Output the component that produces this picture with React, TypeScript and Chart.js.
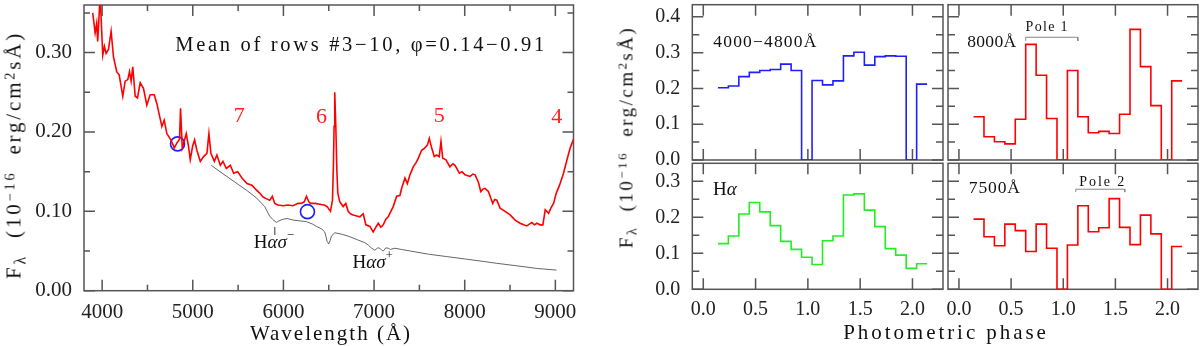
import React, { useEffect, useLayoutEffect, useRef } from 'react';
import { Chart, registerables } from 'chart.js';
Chart.register(...registerables);

// ---------- Left panel: mean spectrum ----------
const specWave = [3896, 3923, 3940, 3951, 3967, 3978, 3996, 4007, 4025, 4044, 4070, 4099, 4125, 4161, 4188, 4228, 4254, 4283, 4302, 4320, 4338, 4365, 4390, 4420, 4456, 4493, 4530, 4575, 4603, 4659, 4685, 4714, 4758, 4796, 4824, 4854, 4865, 4884, 4909, 4928, 4953, 4972, 4998, 5020, 5045, 5083, 5119, 5156, 5178, 5200, 5238, 5266, 5304, 5333, 5370, 5414, 5451, 5495, 5543, 5598, 5653, 5700, 5738, 5775, 5810, 5849, 5878, 5904, 5940, 5996, 6050, 6106, 6161, 6199, 6230, 6254, 6280, 6298, 6350, 6401, 6450, 6482, 6519, 6541, 6552, 6559, 6566, 6578, 6590, 6600, 6622, 6659, 6688, 6714, 6740, 6769, 6810, 6843, 6880, 6910, 6954, 6990, 7020, 7046, 7075, 7101, 7130, 7156, 7185, 7211, 7249, 7285, 7304, 7341, 7367, 7396, 7432, 7462, 7488, 7525, 7561, 7590, 7609, 7635, 7664, 7690, 7719, 7738, 7757, 7793, 7837, 7870, 7893, 7941, 7970, 8003, 8058, 8090, 8114, 8150, 8177, 8200, 8224, 8261, 8309, 8330, 8354, 8390, 8445, 8501, 8556, 8611, 8650, 8685, 8740, 8770, 8796, 8832, 8862, 8888, 8925, 8950, 8980, 9010, 9046, 9090, 9128, 9164, 9201];
const specFlux = [0.350, 0.325, 0.337, 0.314, 0.348, 0.372, 0.325, 0.297, 0.308, 0.299, 0.304, 0.327, 0.295, 0.276, 0.272, 0.245, 0.264, 0.266, 0.276, 0.264, 0.282, 0.245, 0.243, 0.262, 0.255, 0.234, 0.247, 0.247, 0.236, 0.207, 0.215, 0.198, 0.190, 0.180, 0.186, 0.191, 0.230, 0.180, 0.190, 0.198, 0.182, 0.165, 0.182, 0.190, 0.177, 0.163, 0.169, 0.173, 0.198, 0.173, 0.163, 0.171, 0.158, 0.163, 0.154, 0.158, 0.148, 0.150, 0.142, 0.135, 0.133, 0.127, 0.123, 0.118, 0.116, 0.114, 0.119, 0.110, 0.108, 0.107, 0.108, 0.107, 0.110, 0.110, 0.112, 0.119, 0.112, 0.110, 0.110, 0.109, 0.108, 0.106, 0.100, 0.114, 0.160, 0.207, 0.250, 0.207, 0.150, 0.123, 0.112, 0.106, 0.110, 0.100, 0.097, 0.0955, 0.094, 0.093, 0.097, 0.083, 0.081, 0.074, 0.080, 0.085, 0.080, 0.083, 0.090, 0.093, 0.100, 0.106, 0.119, 0.120, 0.129, 0.142, 0.135, 0.146, 0.156, 0.161, 0.167, 0.177, 0.180, 0.184, 0.192, 0.180, 0.169, 0.171, 0.169, 0.188, 0.167, 0.165, 0.156, 0.160, 0.158, 0.148, 0.150, 0.146, 0.144, 0.147, 0.146, 0.137, 0.125, 0.128, 0.129, 0.125, 0.110, 0.115, 0.114, 0.104, 0.100, 0.0955, 0.089, 0.085, 0.083, 0.0816, 0.086, 0.083, 0.085, 0.083, 0.083, 0.102, 0.0976, 0.104, 0.110, 0.123, 0.133, 0.148, 0.165, 0.180, 0.191];

const starWave = [5204, 5300, 5400, 5500, 5600, 5702, 5760, 5793, 5848, 5880, 5922, 5950, 5996, 6040, 6106, 6180, 6254, 6320, 6364, 6420, 6456, 6470, 6482, 6500, 6515, 6530, 6567, 6650, 6733, 6820, 6899, 6940, 6973, 7009, 7040, 7064, 7085, 7101, 7130, 7156, 7180, 7230, 7300, 7400, 7600, 7801, 8000, 8200, 8354, 8600, 8800, 9012];
const starFlux = [0.158, 0.150, 0.142, 0.134, 0.126, 0.117, 0.110, 0.106, 0.094, 0.090, 0.086, 0.088, 0.090, 0.091, 0.089, 0.088, 0.087, 0.084, 0.081, 0.078, 0.074, 0.068, 0.062, 0.059, 0.063, 0.069, 0.073, 0.071, 0.068, 0.064, 0.0605, 0.057, 0.0535, 0.051, 0.054, 0.0535, 0.051, 0.050, 0.054, 0.0535, 0.052, 0.0535, 0.052, 0.050, 0.046, 0.043, 0.040, 0.037, 0.0345, 0.031, 0.028, 0.026];

const markWave = [4832, 6265];
const markFlux = [0.185, 0.0996];

const waveTicks = [4000, 5000, 6000, 7000, 8000, 9000];
const waveMinor = [4500, 5500, 6500, 7500, 8500];
const fluxTicks = [0, 0.1, 0.2, 0.3];
const fluxMinor = [0.05, 0.15, 0.25, 0.35];

// ---------- Right panels: light curves ----------
const phaseEdges = [0.14, 0.24, 0.34, 0.44, 0.54, 0.64, 0.74, 0.84, 0.94, 1.04, 1.14, 1.24, 1.34, 1.44, 1.54, 1.64, 1.74, 1.84, 1.94, 2.04, 2.14];
const blue4000 = [0.202, 0.207, 0.233, 0.245, 0.250, 0.253, 0.268, 0.250, 0, 0.222, 0.210, 0.221, 0.291, 0.301, 0.265, 0.289, 0.291, 0.290, 0, 0.212];
const red8000 = [0.121, 0.065, 0.051, 0.045, 0.114, 0.323, 0.237, 0.116, 0, 0.250, 0.121, 0.076, 0.080, 0.074, 0.128, 0.365, 0.261, 0.152, 0, 0.221];
const greenHa = [0.127, 0.148, 0.209, 0.241, 0.215, 0.177, 0.133, 0.111, 0.089, 0.069, 0.135, 0.148, 0.262, 0.265, 0.220, 0.174, 0.113, 0.095, 0.058, 0.071];
const red7500 = [0.195, 0.146, 0.121, 0.181, 0.163, 0.105, 0.181, 0.114, 0, 0.123, 0.232, 0.160, 0.171, 0.252, 0.172, 0.124, 0.206, 0.154, 0, 0.119];

const phaseTicks = [0, 0.5, 1, 1.5, 2];
const topFluxTicks = [0, 0.1, 0.2, 0.3, 0.4];
const topFluxMinor = [0.05, 0.15, 0.25, 0.35];
const botFluxTicks = [0, 0.1, 0.2, 0.3];
const botFluxMinor = [0.05, 0.15, 0.25];

const pole1Phase = [0.64, 1.14];
const pole1Level = [0.333, 0.343];
const pole2Phase = [1.12, 1.59];
const pole2Level = [0.270, 0.278];

// ---------- helpers ----------
const FRAME = '#555';
const SERIF = '"Liberation Serif", "DejaVu Serif", serif';
Chart.defaults.font.family = SERIF;

type Part = { t: string; size?: number; dy?: number; italic?: boolean; family?: string };
type Note = { x: number; y: number; parts: Part[]; color: string; size: number; family: string; align?: 'left' | 'center'; width?: number };
type Seg = { x1: number; y1: number; x2: number; y2: number; color: string; width: number };
type Box = { x: number; y: number; w: number; h: number };
type Area = { l: number; t: number; r: number; b: number };

function xy(xs: number[], ys: number[]) {
  return xs.map((x, i) => ({ x, y: ys[i] }));
}
function steps(edges: number[], vals: number[]) {
  return edges.map((x, i) => ({ x, y: vals[Math.min(i, vals.length - 1)] }));
}

function makeFrame(f: { xMajor: number[]; xMinor: number[]; yMajor: number[]; yMinor: number[]; majorLen: number; minorLen: number }) {
  return {
    id: 'frame',
    beforeDatasetsDraw(chart: any) {
      const { ctx, chartArea } = chart;
      const { left, right, top, bottom } = chartArea;
      const xs = chart.scales.x;
      const ys = chart.scales.y;
      ctx.save();
      ctx.strokeStyle = FRAME;
      ctx.lineWidth = 1.5;
      ctx.strokeRect(left, top, right - left, bottom - top);
      ctx.beginPath();
      const vx = (vals: number[], len: number) => {
        vals.forEach((v) => {
          const p = xs.getPixelForValue(v);
          ctx.moveTo(p, bottom); ctx.lineTo(p, bottom - len);
          ctx.moveTo(p, top); ctx.lineTo(p, top + len);
        });
      };
      const vy = (vals: number[], len: number) => {
        vals.forEach((v) => {
          const p = ys.getPixelForValue(v);
          ctx.moveTo(left, p); ctx.lineTo(left + len, p);
          ctx.moveTo(right, p); ctx.lineTo(right - len, p);
        });
      };
      vx(f.xMajor, f.majorLen); vx(f.xMinor, f.minorLen);
      vy(f.yMajor, f.majorLen); vy(f.yMinor, f.minorLen);
      ctx.stroke();
      ctx.restore();
    },
  };
}

function makeNotes(notes: Note[], segs: Seg[]) {
  return {
    id: 'notes',
    afterDatasetsDraw(chart: any) {
      const { ctx } = chart;
      const xs = chart.scales.x;
      const ys = chart.scales.y;
      ctx.save();
      segs.forEach((s) => {
        ctx.strokeStyle = s.color;
        ctx.lineWidth = s.width;
        ctx.beginPath();
        ctx.moveTo(xs.getPixelForValue(s.x1), ys.getPixelForValue(s.y1));
        ctx.lineTo(xs.getPixelForValue(s.x2), ys.getPixelForValue(s.y2));
        ctx.stroke();
      });
      ctx.textBaseline = 'middle';
      ctx.textAlign = 'left';
      notes.forEach((n) => {
        const font = (p: Part) => `${p.italic ? 'italic ' : ''}${p.size || n.size}px ${p.family || n.family}`;
        ctx.letterSpacing = '0px';
        let total = 0;
        let chars = 0;
        n.parts.forEach((p) => { ctx.font = font(p); total += ctx.measureText(p.t).width; chars += p.t.length; });
        let ls = 0;
        if (n.width) { ls = (n.width - total) / Math.max(chars - 1, 1); }
        ctx.letterSpacing = `${ls}px`;
        let x = xs.getPixelForValue(n.x);
        if (n.align === 'center') x -= total / 2;
        const y = ys.getPixelForValue(n.y);
        ctx.fillStyle = n.color;
        n.parts.forEach((p) => {
          ctx.font = font(p);
          ctx.fillText(p.t, x, y + (p.dy || 0));
          x += ctx.measureText(p.t).width;
        });
        ctx.letterSpacing = '0px';
      });
      ctx.restore();
    },
  };
}

type Spec = {
  box: Box; area: Area;
  xMin: number; xMax: number; yMin: number; yMax: number;
  showX: boolean; showY: boolean;
  xTicks: number[]; yTicks: number[]; xMinor: number[]; yMinor: number[];
  xDigits: number; yDigits: number; tickSize: number; xPad: number; yPad: number;
  majorLen: number; minorLen: number;
  datasets: any[]; notes: Note[]; segs: Seg[];
};

function buildConfig(s: Spec): any {
  const boxR = s.box.x + s.box.w;
  const boxB = s.box.y + s.box.h;
  const tickFont = () => ({ family: SERIF, size: s.tickSize });
  return {
    type: 'line',
    data: { datasets: s.datasets },
    options: {
      responsive: false,
      animation: false,
      devicePixelRatio: 1,
      events: [],
      layout: {
        autoPadding: false,
        padding: { left: 0, bottom: 0, right: boxR - s.area.r, top: s.area.t - s.box.y },
      },
      plugins: { legend: { display: false }, tooltip: { enabled: false }, title: { display: false } },
      scales: {
        x: {
          type: 'linear', min: s.xMin, max: s.xMax, display: s.showX,
          grid: { display: false, drawTicks: false }, border: { display: false },
          ticks: { font: tickFont(), color: '#222', padding: s.xPad, maxRotation: 0, autoSkip: false,
            callback: (v: number) => Number(v).toFixed(s.xDigits) },
          afterBuildTicks: (sc: any) => { sc.ticks = s.xTicks.map((v) => ({ value: v })); },
          afterFit: (sc: any) => { sc.height = boxB - s.area.b; },
        },
        y: {
          type: 'linear', min: s.yMin, max: s.yMax, display: s.showY,
          grid: { display: false, drawTicks: false }, border: { display: false },
          ticks: { font: tickFont(), color: '#222', padding: s.yPad, autoSkip: false,
            callback: (v: number) => Number(v).toFixed(s.yDigits) },
          afterBuildTicks: (sc: any) => { sc.ticks = s.yTicks.map((v) => ({ value: v })); },
          afterFit: (sc: any) => { sc.width = s.area.l - s.box.x; },
        },
      },
    },
    plugins: [
      makeFrame({ xMajor: s.xTicks, xMinor: s.xMinor, yMajor: s.yTicks, yMinor: s.yMinor, majorLen: s.majorLen, minorLen: s.minorLen }),
      makeNotes(s.notes, s.segs),
    ],
  };
}

function ChartBox({ spec }: { spec: Spec }) {
  const ref = useRef<HTMLCanvasElement>(null);
  useEffect(() => {
    const chart = new Chart(ref.current as HTMLCanvasElement, buildConfig(spec));
    return () => chart.destroy();
  }, []);
  const b = spec.box;
  return (
    <canvas ref={ref} width={b.w} height={b.h}
      style={{ position: 'absolute', left: b.x, top: b.y, width: b.w, height: b.h }} />
  );
}

const lineDs = (data: any[], color: string, width: number, stepped = false) => ({
  data, borderColor: color, borderWidth: width, pointRadius: 0, fill: false, tension: 0, stepped,
});

const bracket = (ph: number[], lv: number[]) => [
  { x: ph[0], y: lv[0] }, { x: ph[0], y: lv[1] }, { x: ph[1], y: lv[1] }, { x: ph[1], y: lv[0] },
];

// ---------- specs ----------
const leftSpec: Spec = {
  box: { x: -40, y: -40, w: 680, h: 426 },
  area: { l: 84, t: 5, r: 573.5, b: 290.7 },
  xMin: 3800, xMax: 9200, yMin: 0, yMax: 0.36,
  showX: true, showY: true,
  xTicks: waveTicks, yTicks: fluxTicks, xMinor: waveMinor, yMinor: fluxMinor,
  xDigits: 0, yDigits: 2, tickSize: 21, xPad: 9, yPad: 12,
  majorLen: 11, minorLen: 6,
  datasets: [
    lineDs(xy(starWave, starFlux), '#666', 1),
    lineDs(xy(specWave, specFlux), '#ff0000', 1.6),
    { data: xy(markWave, markFlux), showLine: false, pointRadius: 7, pointStyle: 'circle',
      pointBorderWidth: 1.6, pointBorderColor: '#1f1fff', pointBackgroundColor: 'rgba(0,0,0,0)' },
  ],
  notes: [
    { x: 4807, y: 0.309, parts: [{ t: 'Mean of rows #3\u221210, \u03c6=0.14\u22120.91' }], color: '#111', size: 20.5, family: SERIF, width: 369 },
    { x: 5514, y: 0.2194, parts: [{ t: '7' }], color: '#ff2020', size: 22, family: SERIF, align: 'center' },
    { x: 6420, y: 0.2187, parts: [{ t: '6' }], color: '#ff2020', size: 22, family: SERIF, align: 'center' },
    { x: 7719, y: 0.2194, parts: [{ t: '5' }], color: '#ff2020', size: 22, family: SERIF, align: 'center' },
    { x: 9016, y: 0.2187, parts: [{ t: '4' }], color: '#ff2020', size: 22, family: SERIF, align: 'center' },
    { x: 5672, y: 0.0601, parts: [{ t: 'H' }, { t: '\u03b1\u03c3', italic: true }, { t: '\u2212', size: 13, dy: -7 }], color: '#111', size: 19, family: SERIF },
    { x: 6762, y: 0.0349, parts: [{ t: 'H' }, { t: '\u03b1\u03c3', italic: true }, { t: '+', size: 13, dy: -7 }], color: '#111', size: 19, family: SERIF },
  ],
  segs: [{ x1: 5905, y1: 0.0803, x2: 5905, y2: 0.0702, color: '#333', width: 1 }],
};

const stepW = 1.6;

const tlSpec: Spec = {
  box: { x: 560, y: -40, w: 430, h: 240 },
  area: { l: 692.3, t: 4.7, r: 943, b: 160 },
  xMin: -0.105, xMax: 2.292, yMin: 0, yMax: 0.434,
  showX: false, showY: true,
  xTicks: phaseTicks, yTicks: topFluxTicks, xMinor: [], yMinor: topFluxMinor,
  xDigits: 1, yDigits: 1, tickSize: 20, xPad: 8, yPad: 12,
  majorLen: 11, minorLen: 7,
  datasets: [lineDs(steps(phaseEdges, blue4000), '#1f1fff', stepW, true)],
  notes: [{ x: 0.096, y: 0.330, parts: [{ t: '4000\u22124800\u00c5' }], color: '#111', size: 17.5, family: SERIF, width: 103 }],
  segs: [],
};

const trSpec: Spec = {
  box: { x: 900, y: -40, w: 340, h: 240 },
  area: { l: 948, t: 4.7, r: 1198, b: 160 },
  xMin: -0.105, xMax: 2.292, yMin: 0, yMax: 0.434,
  showX: false, showY: false,
  xTicks: phaseTicks, yTicks: topFluxTicks, xMinor: [], yMinor: topFluxMinor,
  xDigits: 1, yDigits: 1, tickSize: 20, xPad: 8, yPad: 12,
  majorLen: 11, minorLen: 7,
  datasets: [
    lineDs(bracket(pole1Phase, pole1Level), '#888', 1),
    lineDs(steps(phaseEdges, red8000), '#ff0000', stepW, true),
  ],
  notes: [
    { x: 0.079, y: 0.330, parts: [{ t: '8000\u00c5' }], color: '#111', size: 17.5, family: SERIF, width: 49 },
    { x: 0.639, y: 0.372, parts: [{ t: 'Pole 1' }], color: '#111', size: 14, family: SERIF, width: 42 },
  ],
  segs: [],
};

const blSpec: Spec = {
  box: { x: 560, y: 120, w: 430, h: 266 },
  area: { l: 692.3, t: 163.3, r: 943, b: 289.3 },
  xMin: -0.105, xMax: 2.292, yMin: 0, yMax: 0.35,
  showX: true, showY: true,
  xTicks: phaseTicks, yTicks: botFluxTicks, xMinor: [], yMinor: botFluxMinor,
  xDigits: 1, yDigits: 1, tickSize: 20, xPad: 8, yPad: 12,
  majorLen: 11, minorLen: 7,
  datasets: [lineDs(steps(phaseEdges, greenHa), '#22ee22', stepW, true)],
  notes: [{ x: 0.093, y: 0.276, parts: [{ t: 'H' }, { t: '\u03b1', italic: true }], color: '#111', size: 19, family: SERIF }],
  segs: [],
};

const brSpec: Spec = {
  box: { x: 900, y: 120, w: 340, h: 266 },
  area: { l: 948, t: 163.3, r: 1198, b: 289.3 },
  xMin: -0.105, xMax: 2.292, yMin: 0, yMax: 0.35,
  showX: true, showY: false,
  xTicks: phaseTicks, yTicks: botFluxTicks, xMinor: [], yMinor: botFluxMinor,
  xDigits: 1, yDigits: 1, tickSize: 20, xPad: 8, yPad: 12,
  majorLen: 11, minorLen: 7,
  datasets: [
    lineDs(bracket(pole2Phase, pole2Level), '#888', 1),
    lineDs(steps(phaseEdges, red7500), '#ff0000', stepW, true),
  ],
  notes: [
    { x: 0.095, y: 0.279, parts: [{ t: '7500\u00c5' }], color: '#111', size: 17.5, family: SERIF, width: 51 },
    { x: 1.154, y: 0.298, parts: [{ t: 'Pole 2' }], color: '#111', size: 14, family: SERIF, width: 45 },
  ],
  segs: [],
};

// ---------- HTML axis titles (letter-spaced to the reference widths) ----------
const supS: React.CSSProperties = { fontSize: '0.68em', position: 'relative', top: '-0.45em' };
const subS: React.CSSProperties = { fontSize: '0.75em', position: 'relative', top: '0.3em' };

function Fitted({ cx, cy, size, width, rotate, children }:
  { cx: number; cy: number; size: number; width: number; rotate?: boolean; children: React.ReactNode }) {
  const ref = useRef<HTMLDivElement>(null);
  useLayoutEffect(() => {
    const el = ref.current as HTMLDivElement;
    el.style.letterSpacing = '0px';
    const w = el.offsetWidth;
    const n = (el.textContent || '').length;
    el.style.letterSpacing = `${(width - w) / Math.max(n, 1)}px`;
  }, []);
  return (
    <div style={{ position: 'absolute', left: cx, top: cy, width: 0, height: 0 }}>
      <div ref={ref} style={{ position: 'absolute', left: 0, top: 0,
        transform: `translate(-50%, -50%)${rotate ? ' rotate(-90deg)' : ''}`,
        whiteSpace: 'pre', fontFamily: SERIF, fontSize: size, color: '#111', lineHeight: 1 }}>
        {children}
      </div>
    </div>
  );
}

function FluxText() {
  return (
    <>
      F<span style={subS}>{'\u03bb'}</span>{'  (10'}<span style={supS}>{'\u221216'}</span>{'  erg/cm'}<span style={supS}>2</span>{'s\u00c5)'}
    </>
  );
}

export default function App() {
  return (
    <div style={{ position: 'fixed', left: 0, top: 0, width: 1200, height: 346, background: '#fff', overflow: 'hidden' }}>
      <ChartBox spec={leftSpec} />
      <ChartBox spec={tlSpec} />
      <ChartBox spec={trSpec} />
      <ChartBox spec={blSpec} />
      <ChartBox spec={brSpec} />
      <Fitted cx={14} cy={155} size={21} width={248} rotate><FluxText /></Fitted>
      <Fitted cx={626} cy={137} size={19} width={222} rotate><FluxText /></Fitted>
      <Fitted cx={331} cy={333} size={21} width={162}>{'Wavelength (\u00c5)'}</Fitted>
      <Fitted cx={946} cy={331.7} size={21} width={206}>{'Photometric phase'}</Fitted>
    </div>
  );
}
